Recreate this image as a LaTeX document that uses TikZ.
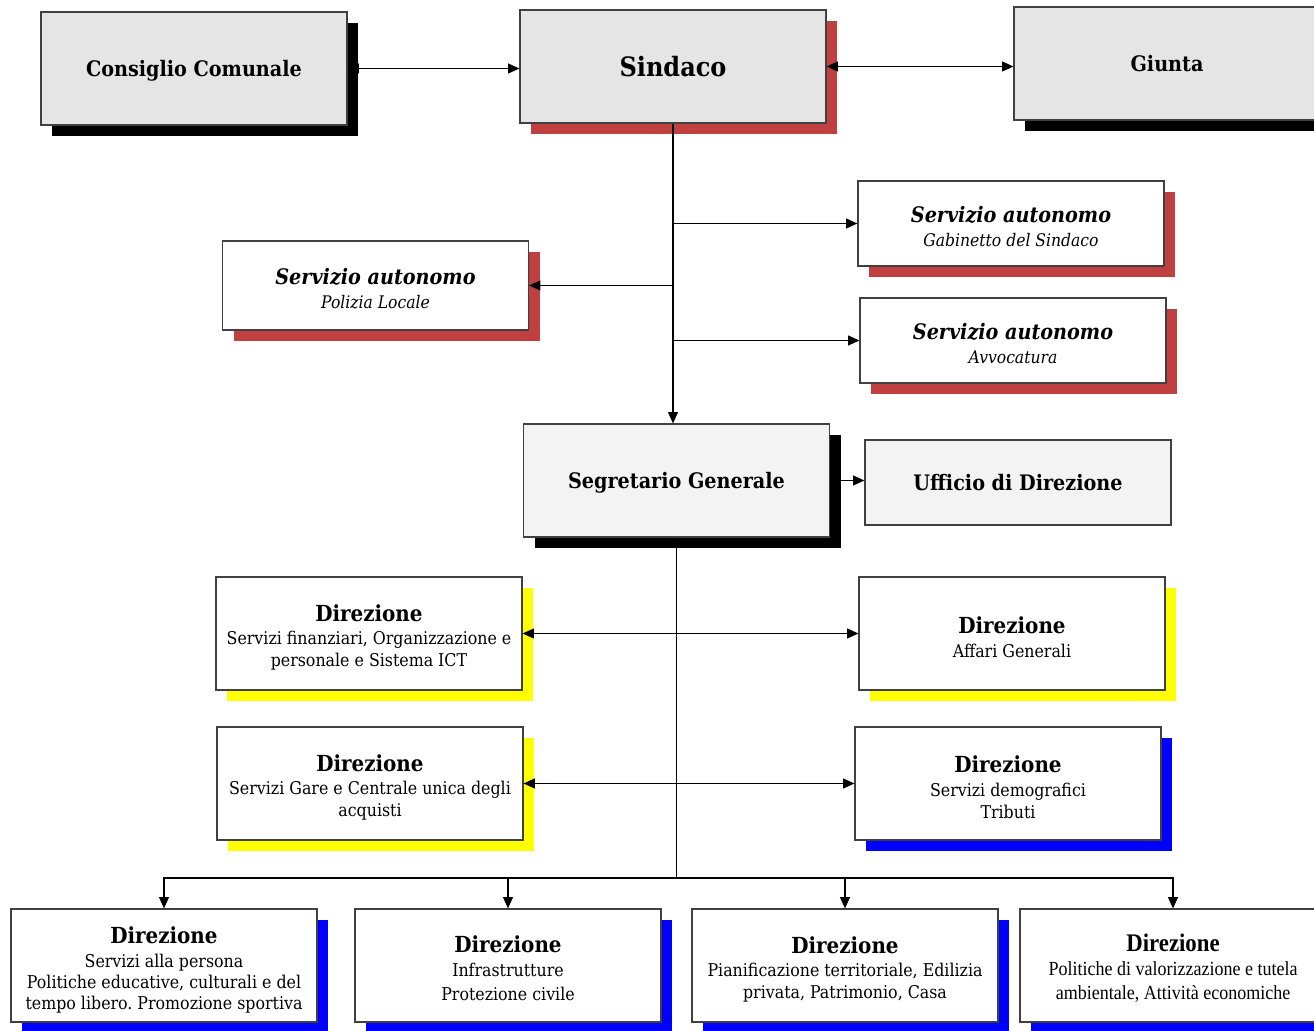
\documentclass[tikz,border=0pt]{standalone}
\usepackage{fontspec}
\setmainfont{DejaVu Serif Condensed}
\newfontfamily\tnrfont[FakeStretch=0.9]{Liberation Serif}
\usetikzlibrary{arrows.meta,shadows}
\frenchspacing
\definecolor{shred}{RGB}{192,64,64}
\definecolor{shyel}{RGB}{255,255,0}
\definecolor{shblu}{RGB}{0,0,255}
\definecolor{boxgray}{RGB}{229,229,229}
\definecolor{boxlight}{RGB}{243,243,243}
\newcommand\fbig{\fontsize{16}{19}\selectfont\bfseries}
\newcommand\fhuge{\fontsize{20}{24}\selectfont\bfseries}
\newcommand\fsa{\fontsize{16}{18}\selectfont\bfseries\itshape}
\newcommand\fsub{\fontsize{13}{18}\selectfont\itshape}
\newcommand\fdir{\fontsize{16.6}{17}\selectfont\bfseries}
\newcommand\fbodyx[1]{\fontsize{13.2}{#1}\selectfont}
\newcommand\ftnr[1]{\tnrfont\fontsize{15}{#1}\selectfont}
\newcommand\tstrut[1]{\rule{0pt}{#1}}
\begin{document}
\begin{tikzpicture}[x=0.75pt,y=-0.75pt,
  box/.style={draw=black!75, line width=0.9pt, align=center, inner sep=2pt,
    minimum width=229.5pt, minimum height=84.75pt, fill=white},
  one/.style={text depth=-2pt},
  lowbox/.style={box, minimum height=63.75pt},
  midbox/.style={box, minimum height=66.75pt},
  sh/.style={drop shadow={fill=#1, opacity=1, shadow xshift=8.25pt, shadow yshift=-8.25pt}},
  conn/.style={line width=0.8pt, draw=black},
  arr/.style={conn, -{Triangle[length=8.5pt,width=7.5pt]}},
  darr/.style={conn, {Triangle[length=8.5pt,width=7.5pt]}-{Triangle[length=8.5pt,width=7.5pt]}}
]
\useasboundingbox (0,0) rectangle (1314,1031);

% top row
\node[box, one, fill=boxgray, sh=black] (cc) at (194,68.5) {\fbig Consiglio Comunale};
\node[box, one, fill=boxgray, sh=shred] (sind) at (673,66.5) {\fhuge Sindaco};
\node[box, one, fill=boxgray, sh=black] (giu) at (1167,63.5) {\fbig Giunta};

% servizi autonomi
\node[midbox, sh=shred, font=\fsub] (pol) at (375.5,285.5) {{\fsa\tstrut{16.5pt}Servizio autonomo}\\ Polizia Locale};
\node[lowbox, sh=shred, font=\fsub] (gab) at (1011,223.5) {{\fsa\tstrut{16.5pt}Servizio autonomo}\\ Gabinetto del Sindaco};
\node[lowbox, sh=shred, font=\fsub] (avv) at (1013,340.5) {{\fsa\tstrut{16.5pt}Servizio autonomo}\\ Avvocatura};

% segretario
\node[box, one, fill=boxlight, sh=black] (seg) at (676.5,480.5) {\fbig Segretario Generale};
\node[lowbox, one, fill=boxlight] (uff) at (1018,482.5) {\fbig Ufficio di Direzione};

% direzioni
\node[box, sh=shyel, font=\fbodyx{16.5}] (d1) at (369,633.5) {{\fdir\tstrut{18pt}Direzione}\\[1pt] Servizi finanziari, Organizzazione e\\ personale e Sistema ICT};
\node[box, sh=shyel, font=\fbodyx{16.5}] (d2) at (1012,633.5) {{\fdir\tstrut{18pt}Direzione}\\[1pt] Affari Generali};
\node[box, sh=shyel, font=\fbodyx{16.5}] (d3) at (370,783.5) {{\fdir\tstrut{18pt}Direzione}\\[1pt] Servizi Gare e Centrale unica degli\\ acquisti};
\node[box, sh=shblu, font=\fbodyx{16.5}] (d4) at (1008,783.5) {{\fdir\tstrut{18pt}Direzione}\\[1pt] Servizi demografici\\ Tributi};

% bottom row
\node[box, sh=shblu, font=\fbodyx{15.75}] (b1) at (164,965.5) {{\fdir\tstrut{19.5pt}Direzione}\\[2pt] Servizi alla persona\\ Politiche educative, culturali e del\\ tempo libero. Promozione sportiva};
\node[box, sh=shblu, font=\fbodyx{18}] (b2) at (508,965.5) {{\fdir\tstrut{16pt}Direzione}\\ Infrastrutture\\ Protezione civile};
\node[box, sh=shblu, font=\fbodyx{16.5}] (b3) at (845,965.5) {{\fdir\tstrut{18pt}Direzione}\\[0.5pt] Pianificazione territoriale, Edilizia\\ privata, Patrimonio, Casa};
\node[box, sh=shblu, font=\ftnr{18}] (b4) at (1173,965.5) {{\tnrfont\fontsize{19}{19}\selectfont\bfseries\tstrut{18pt}Direzione}\\ Politiche di valorizzazione e tutela\\ ambientale, Attività economiche};

% connectors
\draw[darr] (cc.east) -- (cc.east -| sind.west);
\draw[darr] (sind.east) -- (sind.east -| giu.west);
\draw[arr] (sind.south) -- (sind.south |- seg.north);
\draw[arr] (sind.south |- gab.west) -- (gab.west);
\draw[arr] (sind.south |- pol.east) -- (pol.east);
\draw[arr] (sind.south |- avv.west) -- (avv.west);
\draw[arr] (seg.east) -- (seg.east -| uff.west);

\coordinate (hub) at (676.5,878);
\draw[conn, line width=1.2pt] (seg.south) -- (hub);
\draw[arr] (seg.south |- d1.east) -- (d1.east);
\draw[arr] (seg.south |- d2.west) -- (d2.west);
\draw[arr] (seg.south |- d3.east) -- (d3.east);
\draw[arr] (seg.south |- d4.west) -- (d4.west);
\draw[arr] (hub) -| (b1.north);
\draw[arr] (hub) -| (b2.north);
\draw[arr] (hub) -| (b3.north);
\draw[arr] (hub) -| (b4.north);
\end{tikzpicture}
\end{document}
